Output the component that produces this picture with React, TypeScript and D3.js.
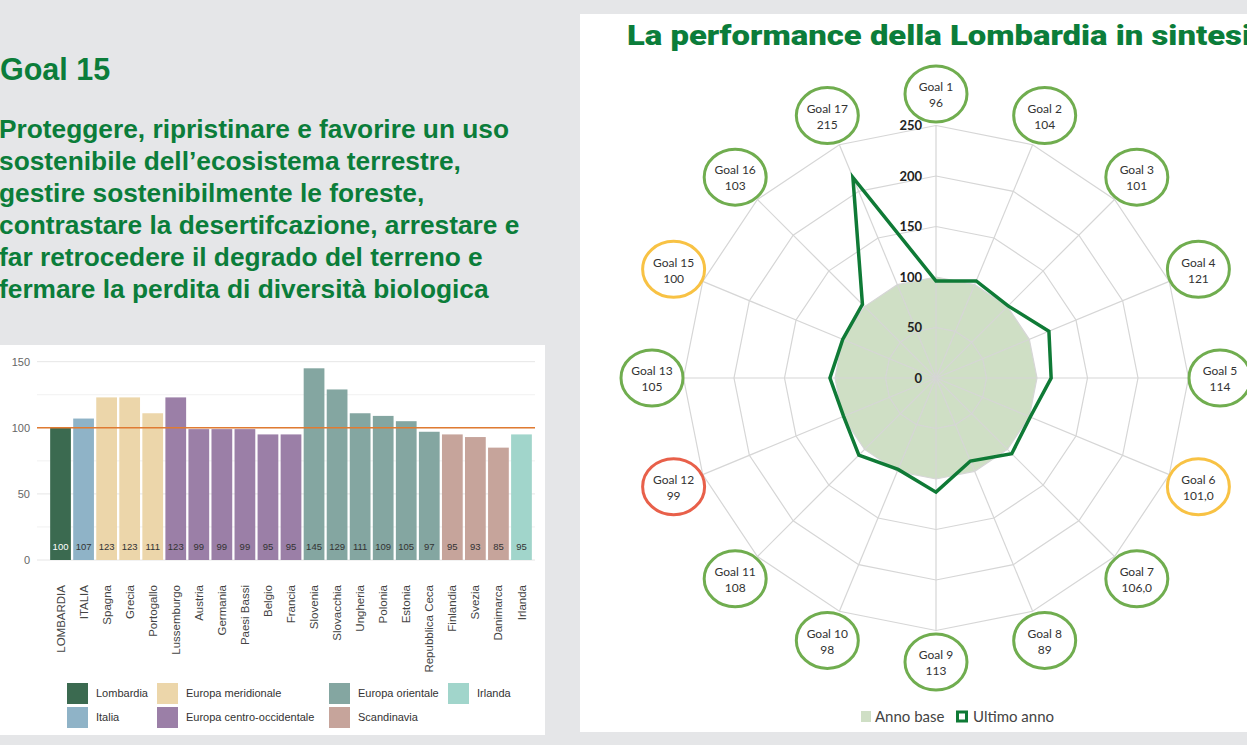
import React from "react";
import * as d3 from "d3";

// ---------- Bar chart data ----------
const countries = [
  "LOMBARDIA", "ITALIA", "Spagna", "Grecia", "Portogallo", "Lussemburgo",
  "Austria", "Germania", "Paesi Bassi", "Belgio", "Francia", "Slovenia",
  "Slovacchia", "Ungheria", "Polonia", "Estonia", "Repubblica Ceca",
  "Finlandia", "Svezia", "Danimarca", "Irlanda",
];
const countryValues = [100, 107, 123, 123, 111, 123, 99, 99, 99, 95, 95, 145, 129, 111, 109, 105, 97, 95, 93, 85, 95];
const countryGroup = [0, 1, 2, 2, 2, 3, 3, 3, 3, 3, 3, 4, 4, 4, 4, 4, 4, 5, 5, 5, 6];
const groupNames = ["Lombardia", "Italia", "Europa meridionale", "Europa centro-occidentale", "Europa orientale", "Scandinavia", "Irlanda"];
const groupColors = ["#3b6a50", "#8fb3c7", "#ecd6aa", "#9b7fa7", "#84a6a1", "#c6a49b", "#a1d5cb"];
const barTicks = [0, 50, 100, 150];
const barMinorTicks = [25, 75, 125];
const referenceValue = 100;

// ---------- Radar data ----------
const goals = ["Goal 1", "Goal 2", "Goal 3", "Goal 4", "Goal 5", "Goal 6", "Goal 7", "Goal 8", "Goal 9", "Goal 10", "Goal 11", "Goal 12", "Goal 13", "Goal 15", "Goal 16", "Goal 17"];
const goalLabels = ["96", "104", "101", "121", "114", "101,0", "106,0", "89", "113", "98", "108", "99", "105", "100", "103", "215"];
const lastYear = [96, 104, 101, 121, 114, 101, 106, 89, 113, 98, 108, 99, 105, 100, 103, 215];
const baseYear = [100, 100, 100, 100, 100, 100, 100, 100, 100, 100, 100, 100, 100, 100, 100, 100];
const goalStatus = ["g", "g", "g", "g", "g", "y", "g", "g", "g", "g", "g", "r", "g", "y", "g", "g"];
const radarTicks = [0, 50, 100, 150, 200, 250];

const paragraph = [
  "Proteggere, ripristinare e favorire un uso",
  "sostenibile dell\u2019ecosistema terrestre,",
  "gestire sostenibilmente le foreste,",
  "contrastare la desertifcazione, arrestare e",
  "far retrocedere il degrado del terreno e",
  "fermare la perdita di diversit\u00e0 biologica",
];

const GREEN = "#0b7d3a";
const statusColor: Record<string, string> = { g: "#70ad4f", y: "#f8c244", r: "#e8604a" };

function BarChart() {
  const x = d3.scaleBand<string>().domain(countries).range([49, 533]).paddingInner(0.1).paddingOuter(0.05);
  const y = d3.scaleLinear().domain([0, 150]).range([560, 361.7]);
  const legendCols = [67, 157, 329, 448];
  const legendRows = [683, 707];
  const legendOrder = [[0, 1], [2, 3], [4, 5], [6]];
  return (
    <g>
      <rect x={0} y={345} width={545} height={390} fill="#ffffff" />
      {barMinorTicks.map((t) => (
        <line key={"m" + t} x1={37} x2={535} y1={y(t)} y2={y(t)} stroke="#f1f1f1" strokeWidth={1} />
      ))}
      {barTicks.map((t) => (
        <g key={t}>
          <line x1={37} x2={535} y1={y(t)} y2={y(t)} stroke="#e6e6e6" strokeWidth={1} />
          <text x={30} y={y(t)} dy="0.35em" textAnchor="end" fontSize={11} fill="#666" fontFamily="Liberation Sans, Arial, sans-serif">{t}</text>
        </g>
      ))}
      {countries.map((c, i) => (
        <rect key={c} x={x(c)} y={y(countryValues[i])} width={x.bandwidth()} height={y(0) - y(countryValues[i])} fill={groupColors[countryGroup[i]]} />
      ))}
      <line x1={37} x2={535} y1={y(referenceValue)} y2={y(referenceValue)} stroke="#e07b32" strokeWidth={1.5} />
      {countries.map((c, i) => (
        <text key={"v" + c} x={(x(c) as number) + x.bandwidth() / 2} y={547} dy="0.35em" textAnchor="middle" fontSize={9.5} fill={i === 0 ? "#ffffff" : "#333"} fontFamily="Liberation Sans, Arial, sans-serif">{countryValues[i]}</text>
      ))}
      {countries.map((c) => {
        const cx = (x(c) as number) + x.bandwidth() / 2;
        return (
          <text key={"l" + c} transform={`translate(${cx},585) rotate(-90)`} dy="0.35em" textAnchor="end" fontSize={11.5} fill="#444" fontFamily="Liberation Sans, Arial, sans-serif">{c}</text>
        );
      })}
      {legendOrder.map((col, ci) =>
        col.map((gi, ri) => (
          <g key={"lg" + gi}>
            <rect x={legendCols[ci]} y={legendRows[ri]} width={21} height={21} fill={groupColors[gi]} />
            <text x={legendCols[ci] + 29} y={legendRows[ri] + 10.5} dy="0.35em" fontSize={11} fill="#333" fontFamily="Liberation Sans, Arial, sans-serif">{groupNames[gi]}</text>
          </g>
        ))
      )}
    </g>
  );
}

function Radar() {
  const cx = 936;
  const cy = 378;
  const r = d3.scaleLinear().domain([0, 250]).range([0, 252.5]);
  const n = goals.length;
  const angle = d3.scaleLinear().domain([0, n]).range([0, 2 * Math.PI]);
  const pt = (i: number, v: number): [number, number] => [cx + r(v) * Math.sin(angle(i)), cy - r(v) * Math.cos(angle(i))];
  const poly = d3.line<[number, number]>().curve(d3.curveLinearClosed);
  const ringPath = (v: number) => poly(goals.map((_, i) => pt(i, v)));
  const basePath = poly(baseYear.map((v, i) => pt(i, v)));
  const lastPath = poly(lastYear.map((v, i) => pt(i, v)));
  const labelR = 284;
  return (
    <g>
      <rect x={580} y={14} width={667} height={718} fill="#ffffff" />
      <text x={627} y={45} fontSize={27} fontWeight={900} fill={GREEN} fontFamily="Roboto, Liberation Sans, sans-serif" textLength={624} lengthAdjust="spacingAndGlyphs">La performance della Lombardia in sintesi</text>
      <path d={basePath || ""} fill="#cfdfc5" stroke="none" />
      {radarTicks.filter((t) => t > 0).map((t) => (
        <path key={t} d={ringPath(t) || ""} fill="none" stroke="#d6d6d6" strokeWidth={1.2} />
      ))}
      {goals.map((g, i) => {
        const [x2, y2] = pt(i, 250);
        return <line key={g} x1={cx} y1={cy} x2={x2} y2={y2} stroke="#d6d6d6" strokeWidth={1.2} />;
      })}
      <path d={lastPath || ""} fill="none" stroke="#0f7a36" strokeWidth={3.5} strokeLinejoin="miter" />
      {radarTicks.map((t) => (
        <text key={"t" + t} x={cx - 14} y={cy - r(t)} dy="0.35em" textAnchor="end" fontSize={13} fontWeight="bold" fill="#222" fontFamily="Lato, Liberation Sans, sans-serif">{t}</text>
      ))}
      {goals.map((g, i) => {
        const lx = cx + labelR * Math.sin(angle(i));
        const ly = cy - labelR * Math.cos(angle(i));
        return (
          <g key={"c" + g}>
            <ellipse cx={lx} cy={ly} rx={31} ry={28} fill="#fff" stroke={statusColor[goalStatus[i]]} strokeWidth={3} />
            <text x={lx} y={ly - 7} dy="0.35em" textAnchor="middle" fontSize={12} fill="#333" fontFamily="Lato, Liberation Sans, sans-serif">{g}</text>
            <text x={lx} y={ly + 9} dy="0.35em" textAnchor="middle" fontSize={12} fill="#333" fontFamily="Lato, Liberation Sans, sans-serif">{goalLabels[i]}</text>
          </g>
        );
      })}
      <rect x={861} y={711} width={10} height={11} fill="#cfdfc5" />
      <text x={875} y={716.5} dy="0.35em" fontSize={15} fill="#444" fontFamily="Lato, Liberation Sans, sans-serif">Anno base</text>
      <rect x={957.5} y={712} width={9} height={9} fill="#fff" stroke="#0f7a36" strokeWidth={3} />
      <text x={973} y={716.5} dy="0.35em" fontSize={15} fill="#444" fontFamily="Lato, Liberation Sans, sans-serif">Ultimo anno</text>
    </g>
  );
}

export default function App() {
  return (
    <svg width={1247} height={745} style={{ position: "absolute", left: 0, top: 0, display: "block" }}>
      <rect x={0} y={0} width={1247} height={745} fill="#e5e6e8" />
      <text x={0} y={80} fontSize={30.5} fontWeight="bold" fill={GREEN} fontFamily="Liberation Sans, Arial, sans-serif">Goal 15</text>
      {paragraph.map((line, i) => (
        <text key={i} x={-1} y={138 + i * 32} fontSize={26.3} fontWeight="bold" fill={GREEN} fontFamily="Liberation Sans, Arial, sans-serif">{line}</text>
      ))}
      <BarChart />
      <Radar />
    </svg>
  );
}
